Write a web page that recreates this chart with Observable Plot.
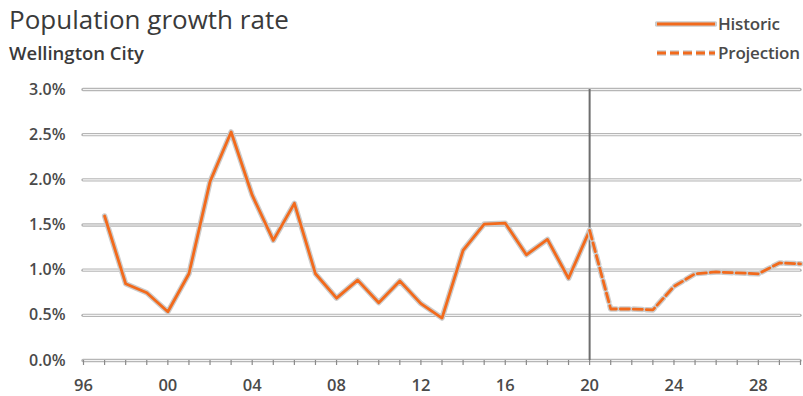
<!DOCTYPE html>
<html>
<head>
<meta charset="utf-8">
<script src="https://cdn.jsdelivr.net/npm/d3@7"></script>
<script src="https://cdn.jsdelivr.net/npm/@observablehq/plot@0.6"></script>
<style>
  body { margin: 0; background: #fff; font-family: "Open Sans", "Noto Sans", sans-serif; }
  #chart { position: relative; width: 803px; height: 396px; overflow: hidden; }
  #head { position: relative; height: 78px; }
  .title { position: absolute; left: 9px; top: 1px; font-size: 26px; color: #3a3a3a; white-space: nowrap; }
  .subtitle { position: absolute; left: 9px; top: 40px; font-size: 18.5px; font-weight: 600; color: #3a3a3a; white-space: nowrap; }
  .legend-item { position: absolute; left: 655px; display: flex; align-items: center; font-size: 17px; font-weight: 600; color: #4a4a4a; white-space: nowrap; letter-spacing: -0.2px; }
  .legend-item svg { display: block; margin-right: 1px; }
  #plot svg { display: block; }
</style>
</head>
<body>
<div id="chart">
  <div id="head">
    <div class="title">Population growth rate</div>
    <div class="subtitle">Wellington City</div>
    <div class="legend-item" style="top:12px">
      <svg width="62" height="10"><line x1="2" y1="5" x2="60" y2="5" stroke="#cccccc" stroke-width="5.5" stroke-linecap="round"/><line x1="2" y1="5" x2="60" y2="5" stroke="#f26a1c" stroke-width="2.8"/></svg>
      <span>Historic</span>
    </div>
    <div class="legend-item" style="top:41px">
      <svg width="62" height="10"><line x1="2" y1="5" x2="60" y2="5" stroke="#cccccc" stroke-width="5.5" stroke-dasharray="9,4"/><line x1="2" y1="5" x2="60" y2="5" stroke="#f26a1c" stroke-width="2.8" stroke-dasharray="9,4"/></svg>
      <span>Projection</span>
    </div>
  </div>
  <div id="plot"></div>
</div>
<script>
// Annual population growth rate (%), Wellington City
const historicYears = [1997, 1998, 1999, 2000, 2001, 2002, 2003, 2004, 2005, 2006, 2007, 2008,
  2009, 2010, 2011, 2012, 2013, 2014, 2015, 2016, 2017, 2018, 2019, 2020];
const historicRates = [1.60, 0.85, 0.75, 0.54, 0.96, 1.98, 2.53, 1.83, 1.33, 1.74, 0.96, 0.69,
  0.89, 0.64, 0.88, 0.63, 0.47, 1.22, 1.51, 1.52, 1.17, 1.34, 0.91, 1.44];

const projectionYears = [2020, 2021, 2022, 2023, 2024, 2025, 2026, 2027, 2028, 2029, 2030];
const projectionRates = [1.44, 0.57, 0.57, 0.56, 0.82, 0.96, 0.98, 0.97, 0.96, 1.08, 1.07];

const yTicks = [0, 0.5, 1.0, 1.5, 2.0, 2.5, 3.0];
const xLabelYears = [1996, 2000, 2004, 2008, 2012, 2016, 2020, 2024, 2028];
const xTickYears = d3.range(1996, 2031);
const splitYear = 2020;

const historic = historicYears.map((year, i) => ({year, rate: historicRates[i]}));
const projection = projectionYears.map((year, i) => ({year, rate: projectionRates[i]}));

const orange = "#f26a1c";
const halo = "#cccccc";

const chart = Plot.plot({
  width: 803,
  height: 318,
  marginTop: 11,
  marginBottom: 36,
  marginLeft: 83,
  marginRight: 3,
  style: {fontFamily: "'Open Sans', 'Noto Sans', sans-serif", color: "#4a4a4a", background: "#fff"},
  x: {domain: [1996, 2030], label: null},
  y: {domain: [0, 3], label: null},
  marks: [
    // double-stroked horizontal gridlines
    Plot.ruleY(yTicks, {stroke: "#b6b6b6", strokeWidth: 3.4, strokeLinecap: "round"}),
    Plot.ruleY(yTicks, {stroke: "#f3f3f3", strokeWidth: 1.2}),
    // year ticks below the baseline
    Plot.axisX(xTickYears, {tickSize: 5, stroke: "#8a8a8a", strokeWidth: 1.2, tickFormat: () => "", label: null}),
    Plot.axisX(xLabelYears, {tickSize: 0, tickPadding: 19, fontSize: 16.5, fontWeight: 600, label: null,
      tickFormat: d => String(d % 100).padStart(2, "0")}),
    Plot.axisY(yTicks, {tickSize: 0, tickPadding: 18, fontSize: 16, fontWeight: 600, label: null,
      tickFormat: d => d.toFixed(1) + "%"}),
    // boundary between history and projection
    Plot.ruleX([splitYear], {stroke: "#6e6e6e", strokeWidth: 2}),
    // historic series
    Plot.line(historic, {x: "year", y: "rate", stroke: halo, strokeWidth: 5.5, strokeLinejoin: "round", strokeLinecap: "round"}),
    Plot.line(historic, {x: "year", y: "rate", stroke: orange, strokeWidth: 2.8, strokeLinejoin: "round"}),
    // projected series
    Plot.line(projection, {x: "year", y: "rate", stroke: halo, strokeWidth: 5.5, strokeDasharray: "9,4", strokeLinejoin: "round"}),
    Plot.line(projection, {x: "year", y: "rate", stroke: orange, strokeWidth: 2.8, strokeDasharray: "9,4", strokeLinejoin: "round"})
  ]
});
document.getElementById("plot").append(chart);
</script>
</body>
</html>
